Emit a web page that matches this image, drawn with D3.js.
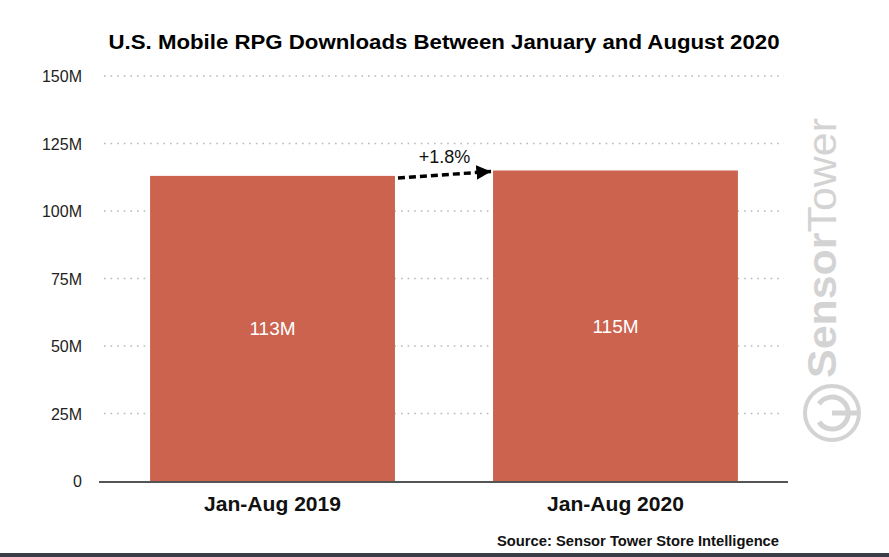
<!DOCTYPE html>
<html>
<head>
<meta charset="utf-8">
<script src="https://cdn.jsdelivr.net/npm/d3@7/dist/d3.min.js"></script>
<style>
body { margin: 0; background: #fff; }
svg { display: block; font-family: "Liberation Sans", Arial, sans-serif; }
</style>
</head>
<body>
<svg id="chart" width="889" height="557"></svg>
<script>
var periods = ["Jan-Aug 2019", "Jan-Aug 2020"];
var downloads = [113, 115];
var barLabels = ["113M", "115M"];
var yTicks = [0, 25, 50, 75, 100, 125, 150];
var yTickLabels = ["0", "25M", "50M", "75M", "100M", "125M", "150M"];
var changeLabel = "+1.8%";

var width = 889, height = 557;
var svg = d3.select("#chart");

var x = d3.scaleBand().domain(periods).range([100, 788]).paddingInner(0.286).paddingOuter(0.146);
var y = d3.scaleLinear().domain([0, 150]).range([481, 76]);

// title
svg.append("text")
    .attr("x", 444).attr("y", 49)
    .attr("text-anchor", "middle")
    .style("font-size", "20px").style("font-weight", "bold")
    .attr("textLength", 671).attr("lengthAdjust", "spacingAndGlyphs")
    .text("U.S. Mobile RPG Downloads Between January and August 2020");

// watermark
var wm = svg.append("g").attr("transform", "translate(836,248) rotate(-90)");
wm.append("text")
    .attr("text-anchor", "middle")
    .style("font-size", "40px").style("fill", "#d3d3d3")
    .attr("textLength", 260).attr("lengthAdjust", "spacingAndGlyphs")
    .html('<tspan style="font-weight:bold">Sensor</tspan><tspan>Tower</tspan>');
var logo = svg.append("g").attr("transform", "translate(832,413)").style("fill", "none").style("stroke", "#d3d3d3");
logo.append("circle").attr("r", 27).attr("stroke-width", 4);
logo.append("path").attr("d", "M-9,-13 A16,16 0 1,0 9,-13").attr("stroke-width", 5).attr("transform", "rotate(-90)");
logo.append("line").attr("x1", 0).attr("y1", 0).attr("x2", 25).attr("y2", 0).attr("stroke-width", 5);

// gridlines
svg.append("g").selectAll("line")
    .data(yTicks.filter(function(d){ return d > 0; }))
    .enter().append("line")
    .attr("x1", 104).attr("x2", 784)
    .attr("y1", function(d){ return y(d); }).attr("y2", function(d){ return y(d); })
    .attr("stroke", "#b8b8b8").attr("stroke-width", 1.6)
    .attr("stroke-dasharray", "1.6,5");

// y axis labels
var yAxis = d3.axisLeft(y).tickValues(yTicks)
    .tickFormat(function(d, i){ return yTickLabels[i]; })
    .tickSize(0).tickPadding(0);
var ya = svg.append("g").attr("transform", "translate(82,0)").call(yAxis);
ya.select(".domain").remove();
ya.selectAll("text").style("font-size", "16px").style("fill", "#222").style("font-family", "Liberation Sans, Arial, sans-serif").attr("dy", "0.35em");

// bars
svg.append("g").selectAll("rect")
    .data(downloads).enter().append("rect")
    .attr("x", function(d, i){ return x(periods[i]); })
    .attr("width", x.bandwidth())
    .attr("y", function(d){ return y(d); })
    .attr("height", function(d){ return y(0) - y(d); })
    .attr("fill", "#cb634f");

svg.append("g").selectAll("text")
    .data(downloads).enter().append("text")
    .attr("x", function(d, i){ return x(periods[i]) + x.bandwidth() / 2; })
    .attr("y", function(d){ return (y(d) + y(0)) / 2 + 7; })
    .attr("text-anchor", "middle")
    .style("font-size", "19px").style("fill", "#fff")
    .text(function(d, i){ return barLabels[i]; });

// baseline
svg.append("line")
    .attr("x1", 99).attr("x2", 788)
    .attr("y1", y(0) + 1).attr("y2", y(0) + 1)
    .attr("stroke", "#555").attr("stroke-width", 2);

// x axis labels
var xAxis = d3.axisBottom(x).tickSize(0).tickPadding(0);
var xa = svg.append("g").attr("transform", "translate(0,497)").call(xAxis);
xa.select(".domain").remove();
xa.selectAll("text").style("font-size", "20px").style("font-weight", "bold").style("fill", "#111")
    .style("font-family", "Liberation Sans, Arial, sans-serif")
    .attr("textLength", 137).attr("lengthAdjust", "spacingAndGlyphs");

// change arrow
svg.append("defs").append("marker")
    .attr("id", "arrow").attr("viewBox", "0 0 10 10")
    .attr("refX", 10).attr("refY", 5)
    .attr("markerWidth", 4.2).attr("markerHeight", 4.2)
    .attr("orient", "auto")
    .append("path").attr("d", "M0,0 L10,5 L0,10 Z").attr("fill", "#000");

var x0 = x(periods[0]) + x.bandwidth() + 3;
var x1 = x(periods[1]) - 2;
svg.append("line")
    .attr("x1", x0).attr("y1", y(downloads[0]) + 2)
    .attr("x2", x1).attr("y2", y(downloads[1]) + 1)
    .attr("stroke", "#000").attr("stroke-width", 3.5)
    .attr("stroke-dasharray", "7,4")
    .attr("marker-end", "url(#arrow)");

svg.append("text")
    .attr("x", (x0 + x1) / 2).attr("y", 163)
    .attr("text-anchor", "middle")
    .style("font-size", "18px").style("fill", "#111")
    .text(changeLabel);

// source
svg.append("text")
    .attr("x", 779).attr("y", 546)
    .attr("text-anchor", "end")
    .style("font-size", "14px").style("font-weight", "bold").style("fill", "#111")
    .attr("textLength", 282).attr("lengthAdjust", "spacingAndGlyphs")
    .text("Source: Sensor Tower Store Intelligence");

// bottom strip
svg.append("rect").attr("x", 0).attr("y", 553).attr("width", width).attr("height", 4).attr("fill", "#3b3e47");
</script>
</body>
</html>
